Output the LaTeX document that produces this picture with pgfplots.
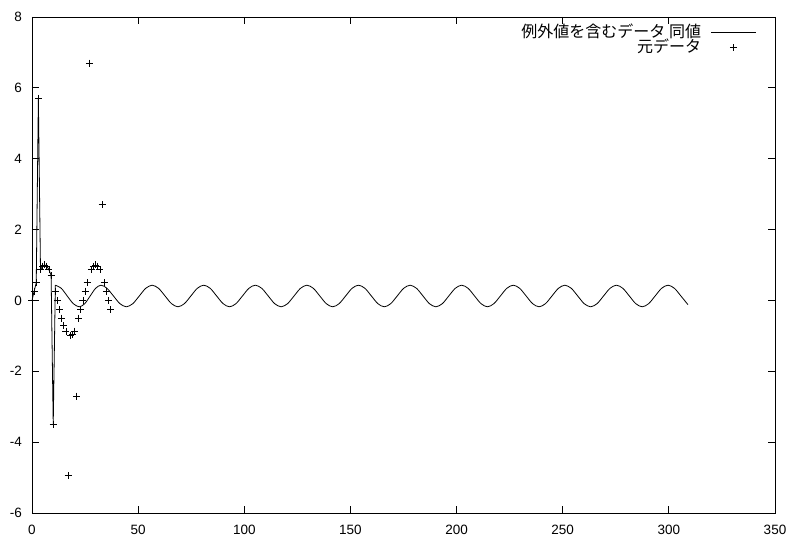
\documentclass[border=0pt]{standalone}
\usepackage{pgfplots}
\pgfplotsset{compat=1.18}
\usepackage{fontspec}
\setmainfont{Liberation Sans}
\newfontfamily\jp{Noto Sans CJK JP}
\begin{document}
\begin{tikzpicture}
\useasboundingbox (-32bp,-24bp) rectangle (759bp,513bp);
\begin{axis}[
  at={(0,0)}, anchor=south west,
  scale only axis, width=743bp, height=496bp,
  xmin=0, xmax=350, ymin=-6, ymax=8,
  xtick={0,50,...,350}, ytick={-6,-4,...,8},
  tick align=inside, major tick length=7bp,
  axis line style={line width=0.9bp},
  every tick/.style={black, line width=0.8bp},
  /pgf/number format/assume math mode=true,
  tick label style={font=\fontsize{13.5bp}{15bp}\selectfont, inner sep=0pt},
  yticklabel style={xshift=-10bp},
  xticklabel style={yshift=-12bp},
  legend style={draw=none, fill=none, at={(1,1)}, anchor=north east,
    xshift=-19bp, yshift=-8bp, inner sep=0pt,
    font=\jp\fontsize{16bp}{17bp}\selectfont,
    nodes={inner sep=1bp, text height=11bp, text depth=2bp},
    /tikz/column sep=9bp},
  legend plot pos=right,
  legend cell align=right,
  legend image code/.code={\draw[mark repeat=2,mark phase=2,#1] plot coordinates {(0bp,0bp) (22bp,0bp) (44bp,0bp)};},
]
% line: first segment (follows the data with outliers)
\addplot[black, line width=0.8bp, forget plot] coordinates {
 (0,0) (1,0.259) (2,0.5) (3,5.7) (4,0.866) (5,0.966) (6,1) (7,0.966) (8,0.866) (9,0.707) (10,-3.5) (11,0.43)
};
% line: smooth continuation
\addplot[black, line width=0.8bp, smooth] coordinates {
 (11,0.43) (13.8,0.341) (16.6,0.125) (19.45,-0.091) (22.3,-0.18) (24.85,-0.091) (27.4,0.125) (29.95,0.341) (32.5,0.43)
 (35.34,0.341) (38.38,0.125) (41.41,-0.091) (44.45,-0.18) (47.49,-0.091) (50.53,0.125) (53.56,0.341) (56.60,0.43)
 (59.64,0.341) (62.68,0.125) (65.71,-0.091) (68.75,-0.18) (71.79,-0.091) (74.83,0.125) (77.86,0.341) (80.90,0.43)
 (83.94,0.341) (86.98,0.125) (90.01,-0.091) (93.05,-0.18) (96.09,-0.091) (99.13,0.125) (102.16,0.341) (105.20,0.43)
 (108.24,0.341) (111.28,0.125) (114.31,-0.091) (117.35,-0.18) (120.39,-0.091) (123.43,0.125) (126.46,0.341) (129.50,0.43)
 (132.54,0.341) (135.58,0.125) (138.61,-0.091) (141.65,-0.18) (144.69,-0.091) (147.73,0.125) (150.76,0.341) (153.80,0.43)
 (156.84,0.341) (159.88,0.125) (162.91,-0.091) (165.95,-0.18) (168.99,-0.091) (172.03,0.125) (175.06,0.341) (178.10,0.43)
 (181.14,0.341) (184.18,0.125) (187.21,-0.091) (190.25,-0.18) (193.29,-0.091) (196.33,0.125) (199.36,0.341) (202.40,0.43)
 (205.44,0.341) (208.48,0.125) (211.51,-0.091) (214.55,-0.18) (217.59,-0.091) (220.63,0.125) (223.66,0.341) (226.70,0.43)
 (229.74,0.341) (232.78,0.125) (235.81,-0.091) (238.85,-0.18) (241.89,-0.091) (244.93,0.125) (247.96,0.341) (251.00,0.43)
 (254.04,0.341) (257.08,0.125) (260.11,-0.091) (263.15,-0.18) (266.19,-0.091) (269.23,0.125) (272.26,0.341) (275.30,0.43)
 (278.34,0.341) (281.38,0.125) (284.41,-0.091) (287.45,-0.18) (290.49,-0.091) (293.53,0.125) (296.56,0.341) (299.60,0.43)
 (302.64,0.341) (305.68,0.125) (309.0,-0.12)
};
\addlegendentry{例外値を含むデータ 同値}
% original data points
\addplot[black, only marks, mark=+, mark size=3.5bp, mark options={line width=0.8bp}] coordinates {
 (0,0) (1,0.259) (2,0.5) (3,5.7) (4,0.866) (5,0.966) (6,1) (7,0.966) (8,0.866) (9,0.707)
 (10,-3.5) (11,0.259) (12,0) (13,-0.259) (14,-0.5) (15,-0.707) (16,-0.866) (17,-4.95) (18,-1) (19,-0.966)
 (20,-0.866) (21,-2.7) (22,-0.5) (23,-0.259) (24,0) (25,0.259) (26,0.5) (27,6.7) (28,0.866) (29,0.966)
 (30,1) (31,0.966) (32,0.866) (33,2.7) (34,0.5) (35,0.259) (36,0) (37,-0.259)
};
\addlegendentry{元データ}
\end{axis}
\end{tikzpicture}
\end{document}
